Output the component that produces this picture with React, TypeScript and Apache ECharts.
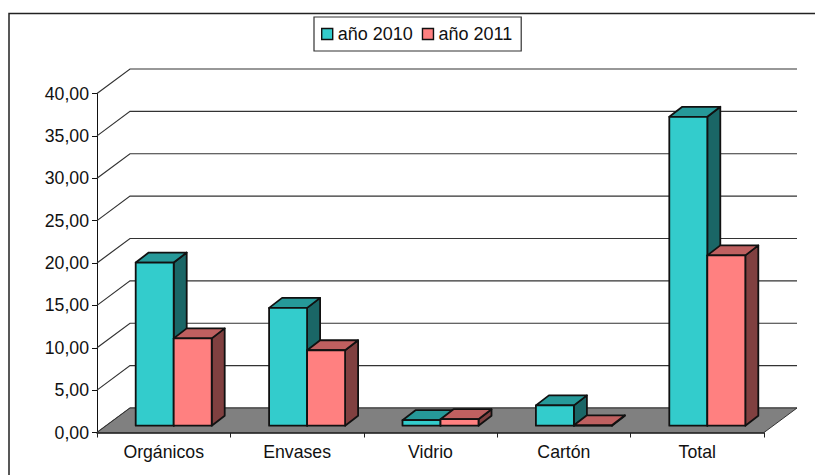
import React, { useEffect, useRef } from "react";
import * as echarts from "echarts";

const categories = ["Orgánicos", "Envases", "Vidrio", "Cartón", "Total"];
const year2010 = [19.25, 13.9, 0.65, 2.4, 36.45];
const year2011 = [10.3, 8.9, 0.77, 0.05, 20.1];
const ticks = [0, 5, 10, 15, 20, 25, 30, 35, 40];

const DX = 33, DY = 24.5;          // floor depth
const BAR_DX = 13, BAR_DY = 10;    // bar depth
const OFF_X = 10, OFF_Y = 6.8;     // bar offset from the front of the floor
const BAR_W = 38;
const FONT = "Liberation Sans, Arial, sans-serif";

const poly = (points: number[][], fill: string, lw = 1.8) => ({
  type: "polygon",
  shape: { points },
  style: { fill, stroke: "#111", lineWidth: lw, lineJoin: "round" },
});

const barRender = (side: number, front: string, top: string, dark: string) => (params: any, api: any) => {
  const idx = api.value(0);
  const base = api.coord([idx, 0]);
  const head = api.coord([idx, api.value(1)]);
  const x0 = base[0] + OFF_X + (side === 0 ? -BAR_W : 0);
  const x1 = x0 + BAR_W;
  const yb = base[1] - OFF_Y;
  const yt = head[1] - OFF_Y;
  return {
    type: "group",
    children: [
      poly([[x1, yt], [x1 + BAR_DX, yt - BAR_DY], [x1 + BAR_DX, yb - BAR_DY], [x1, yb]], dark),
      poly([[x0, yt], [x0 + BAR_DX, yt - BAR_DY], [x1 + BAR_DX, yt - BAR_DY], [x1, yt]], top),
      poly([[x0, yt], [x1, yt], [x1, yb], [x0, yb]], front),
    ],
  };
};

export default function App() {
  const ref = useRef<HTMLDivElement>(null);
  useEffect(() => {
    const chart = echarts.init(ref.current!, undefined, { renderer: "svg" });
    chart.setOption({
      animation: false,
      backgroundColor: "#fff",
      textStyle: { fontFamily: FONT },
      grid: { left: 97, top: 93.5, width: 667, height: 339 },
      graphic: [
        {
          type: "rect",
          z: -10,
          shape: { x: 9, y: 13.5, width: 820, height: 480 },
          style: { fill: "#fff", stroke: "#222", lineWidth: 1.5 },
        },
      ],
      legend: {
        left: 314,
        top: 17,
        padding: [8, 9, 8, 7],
        itemWidth: 11,
        itemHeight: 11,
        itemGap: 9,
        icon: "rect",
        backgroundColor: "#fff",
        borderColor: "#333",
        borderWidth: 1.2,
        data: ["año 2010", "año 2011"],
        textStyle: { fontSize: 18, color: "#111", fontFamily: FONT },
        itemStyle: { borderColor: "#111", borderWidth: 1.4 },
      },
      xAxis: {
        type: "category",
        data: categories,
        axisLine: { show: true, lineStyle: { color: "#111", width: 1.5 } },
        axisTick: { show: true, length: 5, lineStyle: { color: "#222" } },
        axisLabel: { fontSize: 17.7, color: "#111", fontFamily: FONT, margin: 10 },
        splitLine: { show: false },
      },
      yAxis: {
        type: "value",
        min: 0,
        max: 40,
        interval: 5,
        axisLine: { show: true, lineStyle: { color: "#111", width: 1 } },
        axisTick: { show: true, length: 5, lineStyle: { color: "#111" } },
        axisLabel: {
          fontSize: 17.7,
          color: "#111",
          fontFamily: FONT,
          margin: 8,
          formatter: (v: number) => v.toFixed(2).replace(".", ","),
        },
        splitLine: { show: false },
      },
      series: [
        {
          type: "custom",
          name: "rejilla",
          silent: true,
          clip: false,
          z: 1,
          encode: { x: 0, y: 1 },
          data: ticks.map((t) => [0, t]),
          renderItem: (params: any, api: any) => {
            const cs = params.coordSys;
            const y = api.coord([0, api.value(1)])[1];
            const xl = cs.x, xr = cs.x + cs.width;
            return {
              type: "group",
              children: [
                {
                  type: "polyline",
                  shape: { points: [[xl, y], [xl + DX, y - DY], [xr + DX, y - DY]] },
                  style: { fill: "none", stroke: "#333", lineWidth: 1.2 },
                },
              ],
            };
          },
        },
        {
          type: "custom",
          name: "suelo",
          silent: true,
          clip: false,
          z: 2,
          encode: { x: 0, y: 1 },
          data: [[0, 0]],
          renderItem: (params: any, api: any) => {
            const cs = params.coordSys;
            const y = api.coord([0, 0])[1];
            const xl = cs.x, xr = cs.x + cs.width;
            return {
              type: "polygon",
              shape: { points: [[xl, y], [xl + DX, y - DY], [xr + DX, y - DY], [xr, y]] },
              style: { fill: "#808080", stroke: "#333", lineWidth: 1 },
            };
          },
        },
        {
          type: "custom",
          name: "año 2010",
          clip: false,
          z: 3,
          itemStyle: { color: "#33CCCC" },
          encode: { x: 0, y: 1 },
          data: year2010.map((v, i) => [i, v]),
          renderItem: barRender(0, "#33CCCC", "#269999", "#1A6666"),
        },
        {
          type: "custom",
          name: "año 2011",
          clip: false,
          z: 4,
          itemStyle: { color: "#FF8080" },
          encode: { x: 0, y: 1 },
          data: year2011.map((v, i) => [i, v]),
          renderItem: barRender(1, "#FF8080", "#BF6060", "#804040"),
        },
      ],
    });
    return () => chart.dispose();
  }, []);
  return <div ref={ref} style={{ position: "absolute", left: 0, top: 0, width: 815, height: 475 }} />;
}
